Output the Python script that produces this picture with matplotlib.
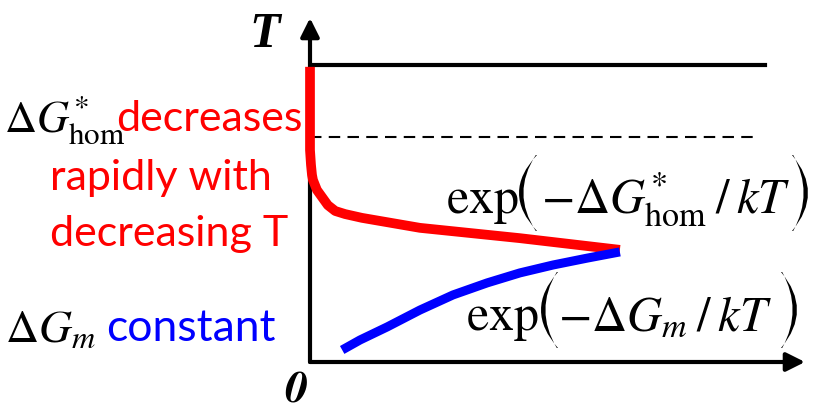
import numpy as np
import matplotlib.pyplot as plt
import matplotlib.transforms as mtransforms
from matplotlib.path import Path
from matplotlib.patches import PathPatch

plt.rcParams['mathtext.fontset'] = 'stix'

W, H = 816, 412

# Кривые в относительных единицах (скорость по x, температура по y)
T_melt = 0.863
T_dash = 0.654
x_melt_end = 0.919
x_dash_end = 0.899

hom_x = [0.000, 0.000, 0.000, 0.002, 0.004, 0.006, 0.014, 0.024, 0.036,
         0.051, 0.071, 0.105, 0.222, 0.323, 0.424, 0.525, 0.626]
hom_T = [0.858, 0.703, 0.616, 0.573, 0.544, 0.529, 0.500, 0.480, 0.456,
         0.439, 0.430, 0.419, 0.390, 0.375, 0.360, 0.343, 0.326]

m_x = [0.065, 0.101, 0.156, 0.222, 0.289, 0.358, 0.424, 0.491, 0.560, 0.626]
m_T = [0.035, 0.064, 0.102, 0.151, 0.195, 0.230, 0.259, 0.282, 0.302, 0.320]

fig = plt.figure(figsize=(W / 100, H / 100), dpi=100)
ax = fig.add_axes([310 / W, 50 / H, 495 / W, 344 / H])
ax.set_xlim(0, 1)
ax.set_ylim(0, 1)
ax.axis('off')

# пиксели (от левого верхнего угла) -> координаты фигуры
px = mtransforms.Affine2D().scale(1 / W, -1 / H).translate(0, 1) + fig.transFigure

# Оси со стрелками
for tip in [(0, 1), (1, 0)]:
    ax.annotate('', xy=tip, xytext=(0, 0),
                arrowprops=dict(arrowstyle='-|>', lw=3, color='black',
                                mutation_scale=28, shrinkA=0, shrinkB=0))

ax.plot([0, x_melt_end], [T_melt, T_melt], color='black', lw=3)
ax.plot([0, x_dash_end], [T_dash, T_dash], color='black', lw=1.5,
        linestyle=(0, (5.5, 3.5)))

ax.plot(hom_x, hom_T, color='#ff0000', lw=7, solid_capstyle='butt',
        solid_joinstyle='round', clip_on=False, zorder=5)
ax.plot(m_x, m_T, color='#0000ff', lw=6.5, solid_capstyle='butt',
        solid_joinstyle='round', zorder=5)


def txt(x, y, s, **kw):
    kw.setdefault('ha', 'left')
    kw.setdefault('va', 'baseline')
    fig.text(0, 0, s, transform=mtransforms.offset_copy(
        fig.transFigure, fig=fig, x=x * 72 / 100, y=(H - y) * 72 / 100,
        units='points'), **kw)


def big_paren(x_end, x_mid, y0, y1, t=5.0):
    # высокая скобка в виде серпа
    ym = (y0 + y1) / 2
    s = np.sign(x_end - x_mid)
    c_out = 2 * x_mid - x_end
    c_in = 2 * (x_mid + s * t) - x_end
    verts = [(x_end, y0), (c_out, ym), (x_end, y1),
             (x_end - s * 1.2, y1), (c_in, ym), (x_end - s * 1.2, y0),
             (x_end, y0)]
    codes = [Path.MOVETO, Path.CURVE3, Path.CURVE3,
             Path.LINETO, Path.CURVE3, Path.CURVE3, Path.CLOSEPOLY]
    fig.add_artist(PathPatch(Path(verts, codes), transform=px,
                             facecolor='black', lw=0))


# Подписи
txt(265, 35, 'T', fontsize=36, ha='center', va='center',
    family='Liberation Serif', weight='bold', style='italic')
txt(284, 402, r'$\mathbfit{0}$', fontsize=33)

txt(4, 132, r'$\Delta G^{*}_{\mathrm{hom}}$', fontsize=32)
txt(116, 131, 'decreases', fontsize=31, color='#ff0000', family='Lato')
txt(50, 190, 'rapidly with', fontsize=31, color='#ff0000', family='Lato')
txt(50, 246, 'decreasing T', fontsize=31, color='#ff0000', family='Lato')

txt(5, 342, r'$\Delta G_{m}$', fontsize=33)
txt(106, 341, 'constant', fontsize=32, color='#0000ff', family='Lato')

# exp(-dG*hom/kT)
txt(446, 213, r'$\mathrm{exp}$', fontsize=36)
big_paren(537, 519, 155, 231)
txt(541, 213, r'$-\Delta G^{*}_{\mathrm{hom}}\:/\:kT$', fontsize=35)
big_paren(792, 808, 155, 231)

# exp(-dGm/kT)
txt(466, 330, r'$\mathrm{exp}$', fontsize=36)
big_paren(558, 541, 272, 348)
txt(558, 330, r'$-\Delta G_{m}\:/\:kT$', fontsize=35)
big_paren(781, 797, 272, 348)

fig.savefig('out.png', dpi=100)
